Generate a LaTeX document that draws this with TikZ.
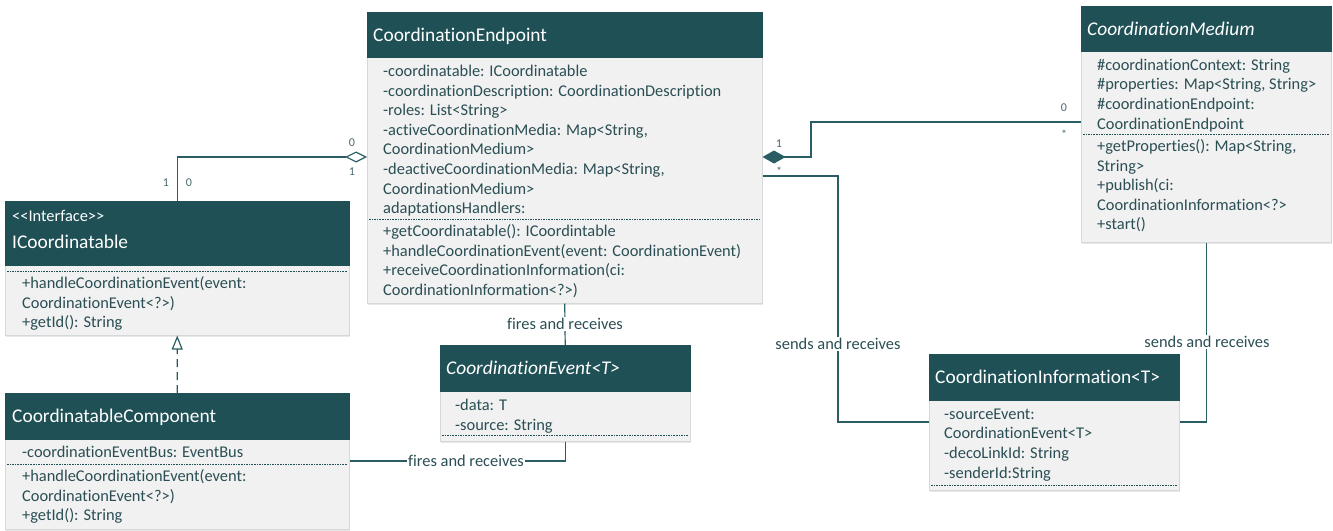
\documentclass[tikz,border=0pt]{standalone}
\usepackage{fontspec}
\setmainfont{Carlito}[Ligatures={TeXOff,NoCommon}]
\usetikzlibrary{arrows.meta,shadows}

\definecolor{hdrcol}{HTML}{1F5055}
\definecolor{bodycol}{HTML}{F1F1F1}
\definecolor{bordercol}{HTML}{D4D8D8}
\definecolor{bodytext}{HTML}{2A4E54}
\definecolor{conncol}{HTML}{2A5D63}
\definecolor{multcol}{HTML}{47696E}

\newcommand{\bodyfont}{\fontsize{16.4}{19.6}\selectfont}
\newcommand{\titlefont}{\fontsize{19.4}{23}\selectfont}
\newcommand{\multfont}{\fontsize{12}{14}\selectfont}

% multi-line text nodes are placed by the baseline of their last line
\tikzset{
  hdr/.style={fill=hdrcol, draw=hdrcol, line width=0.4pt, inner sep=0pt, anchor=north west},
  bodybox/.style={fill=bodycol, draw=bordercol, line width=0.5pt, inner sep=0pt, anchor=north west,
    drop shadow={opacity=0.18, shadow xshift=1pt, shadow yshift=-1.5pt}},
  txt/.style={anchor=base west, inner sep=0pt, align=left, text=bodytext, font=\bodyfont},
  ttl/.style={anchor=base west, inner sep=0pt, text=white, font=\titlefont},
  sep/.style={draw=hdrcol, line width=0.7pt, dash pattern=on 1.6pt off 1pt},
  conn/.style={draw=conncol, line width=1.2pt},
  lbl/.style={fill=white, inner sep=1.5pt, text=bodytext, font=\bodyfont},
  mult/.style={inner sep=0pt, text=multcol, font=\multfont},
}

\begin{document}
\begin{tikzpicture}[x=1pt, y=-1pt]
\useasboundingbox (0,0) rectangle (1333,530);

% ---------------- CoordinationEndpoint ----------------
\node[bodybox, minimum width=395pt, minimum height=246pt] (epB) at (367,57) {};
\node[hdr, minimum width=395pt, minimum height=45pt] (epH) at (367,12) {};
\node[ttl] (epT) at (373,41) {CoordinationEndpoint};
\node[txt] (epA) at (383,213.7) {-coordinatable: ICoordinatable\\
-coordinationDescription: CoordinationDescription\\
-roles: List<String>\\
-activeCoordinationMedia: Map<String,\\
CoordinationMedium>\\
-deactiveCoordinationMedia: Map<String,\\
CoordinationMedium>\\
adaptationsHandlers:};
\draw[sep] (369,219) -- (760,219);
\node[txt] (epM) at (383,295.3) {+getCoordinatable(): ICoordintable\\
+handleCoordinationEvent(event: CoordinationEvent)\\
+receiveCoordinationInformation(ci:\\
CoordinationInformation<?>)};

% ---------------- ICoordinatable ----------------
\node[bodybox, minimum width=344pt, minimum height=70pt] (icB) at (5,265) {};
\node[hdr, minimum width=344pt, minimum height=64pt] (icH) at (5,201) {};
\node[ttl, font=\bodyfont] (icS) at (12,221.5) {<<Interface>>};
\node[ttl] (icT) at (12,248.5) {ICoordinatable};
\draw[sep] (7,271) -- (347,271);
\node[txt] (icM) at (22,327.7) {+handleCoordinationEvent(event:\\
CoordinationEvent<?>)\\
+getId(): String};

% ---------------- CoordinatableComponent ----------------
\node[bodybox, minimum width=344pt, minimum height=90pt] (ccB) at (5,439) {};
\node[hdr, minimum width=344pt, minimum height=46pt] (ccH) at (5,393) {};
\node[ttl] (ccT) at (12,422.5) {CoordinatableComponent};
\node[txt] (ccA) at (22,457.5) {-coordinationEventBus: EventBus};
\draw[sep] (7,464) -- (347,464);
\node[txt] (ccM) at (22,520.7) {+handleCoordinationEvent(event:\\
CoordinationEvent<?>)\\
+getId(): String};

% ---------------- CoordinationEvent<T> ----------------
\node[bodybox, minimum width=250pt, minimum height=50pt] (evB) at (440,391) {};
\node[hdr, minimum width=250pt, minimum height=46pt] (evH) at (440,345) {};
\node[ttl, font=\titlefont\itshape] (evT) at (446,374.5) {CoordinationEvent<T>};
\node[txt] (evA) at (455,430) {-data: T\\
-source: String};
\draw[sep] (442,435) -- (688,435);

% ---------------- CoordinationMedium ----------------
\node[bodybox, minimum width=250pt, minimum height=191pt] (medB) at (1081,51) {};
\node[hdr, minimum width=250pt, minimum height=45pt] (medH) at (1081,6) {};
\node[ttl, font=\titlefont\itshape] (medT) at (1087,35.5) {CoordinationMedium};
\node[txt] (medA) at (1097,129) {\#coordinationContext: String\\
\#properties: Map<String, String>\\
\#coordinationEndpoint:\\
CoordinationEndpoint};
\draw[sep] (1083,134) -- (1329,134);
\node[txt] (medM) at (1097,229.8) {+getProperties(): Map<String,\\
String>\\
+publish(ci:\\
CoordinationInformation<?>\\
+start()};

% ---------------- CoordinationInformation<T> ----------------
\node[bodybox, minimum width=250pt, minimum height=90pt] (infB) at (929,400) {};
\node[hdr, minimum width=250pt, minimum height=46pt] (infH) at (929,354) {};
\node[ttl] (infT) at (935,383.5) {CoordinationInformation<T>};
\node[txt] (infA) at (944,478) {-sourceEvent:\\
CoordinationEvent<T>\\
-decoLinkId: String\\
-senderId:String};
\draw[sep] (931,485) -- (1177,485);

% ---------------- connector bends ----------------
\coordinate (aggY) at (0,157);
\coordinate (compJ) at (811,157);
\coordinate (medY) at (0,122);
\coordinate (sendJ) at (838,422);
\coordinate (sendY) at (0,176);
\coordinate (fireY) at (0,461);

% aggregation: CoordinationEndpoint <>-- ICoordinatable
\draw[conn, {Diamond[open, length=22pt, width=11pt, line width=1.2pt]}-]
  (epB.west |- aggY) -| (icH.north);
% composition: CoordinationEndpoint <#>-- CoordinationMedium
\draw[conn, {Diamond[length=23pt, width=13pt]}-]
  (epB.east |- aggY) -- (compJ) |- (medB.west |- medY);
% sends and receives (endpoint -> information)
\draw[conn] (epB.east |- sendY) -| (sendJ) -- (infB.west |- sendJ);
% sends and receives (medium -> information)
\draw[conn] (medB.south) |- (infB.east |- sendJ);
% fires and receives (endpoint -> event)
\draw[conn] (epB.south) -- (evH.north);
% fires and receives (event -> component)
\draw[conn] (evB.south) |- (ccB.east |- fireY);
% realization: CoordinatableComponent --|> ICoordinatable
\draw[conn, dash pattern=on 8pt off 5pt, -{Triangle[open, length=14pt, width=11pt, line width=1.2pt]}]
  (ccH.north) -- (icB.south);

% ---------------- connector labels ----------------
\node[lbl] (l1) at (565,324) {fires and receives};
\node[lbl] (l2) at (466,461) {fires and receives};
\node[lbl] (l3) at (838,344) {sends and receives};
\node[lbl] (l4) at (1207,342) {sends and receives};

% multiplicities
\node[mult] (m1) at (352,143) {0};
\node[mult] (m2) at (352,172) {1};
\node[mult] (m3) at (166,183) {1};
\node[mult] (m4) at (189,183) {0};
\node[mult] (m5) at (779,144) {1};
\node[mult] (m6) at (779,171) {*};
\node[mult] (m7) at (1064,108) {0};
\node[mult] (m8) at (1064,134) {*};
\end{tikzpicture}
\end{document}
